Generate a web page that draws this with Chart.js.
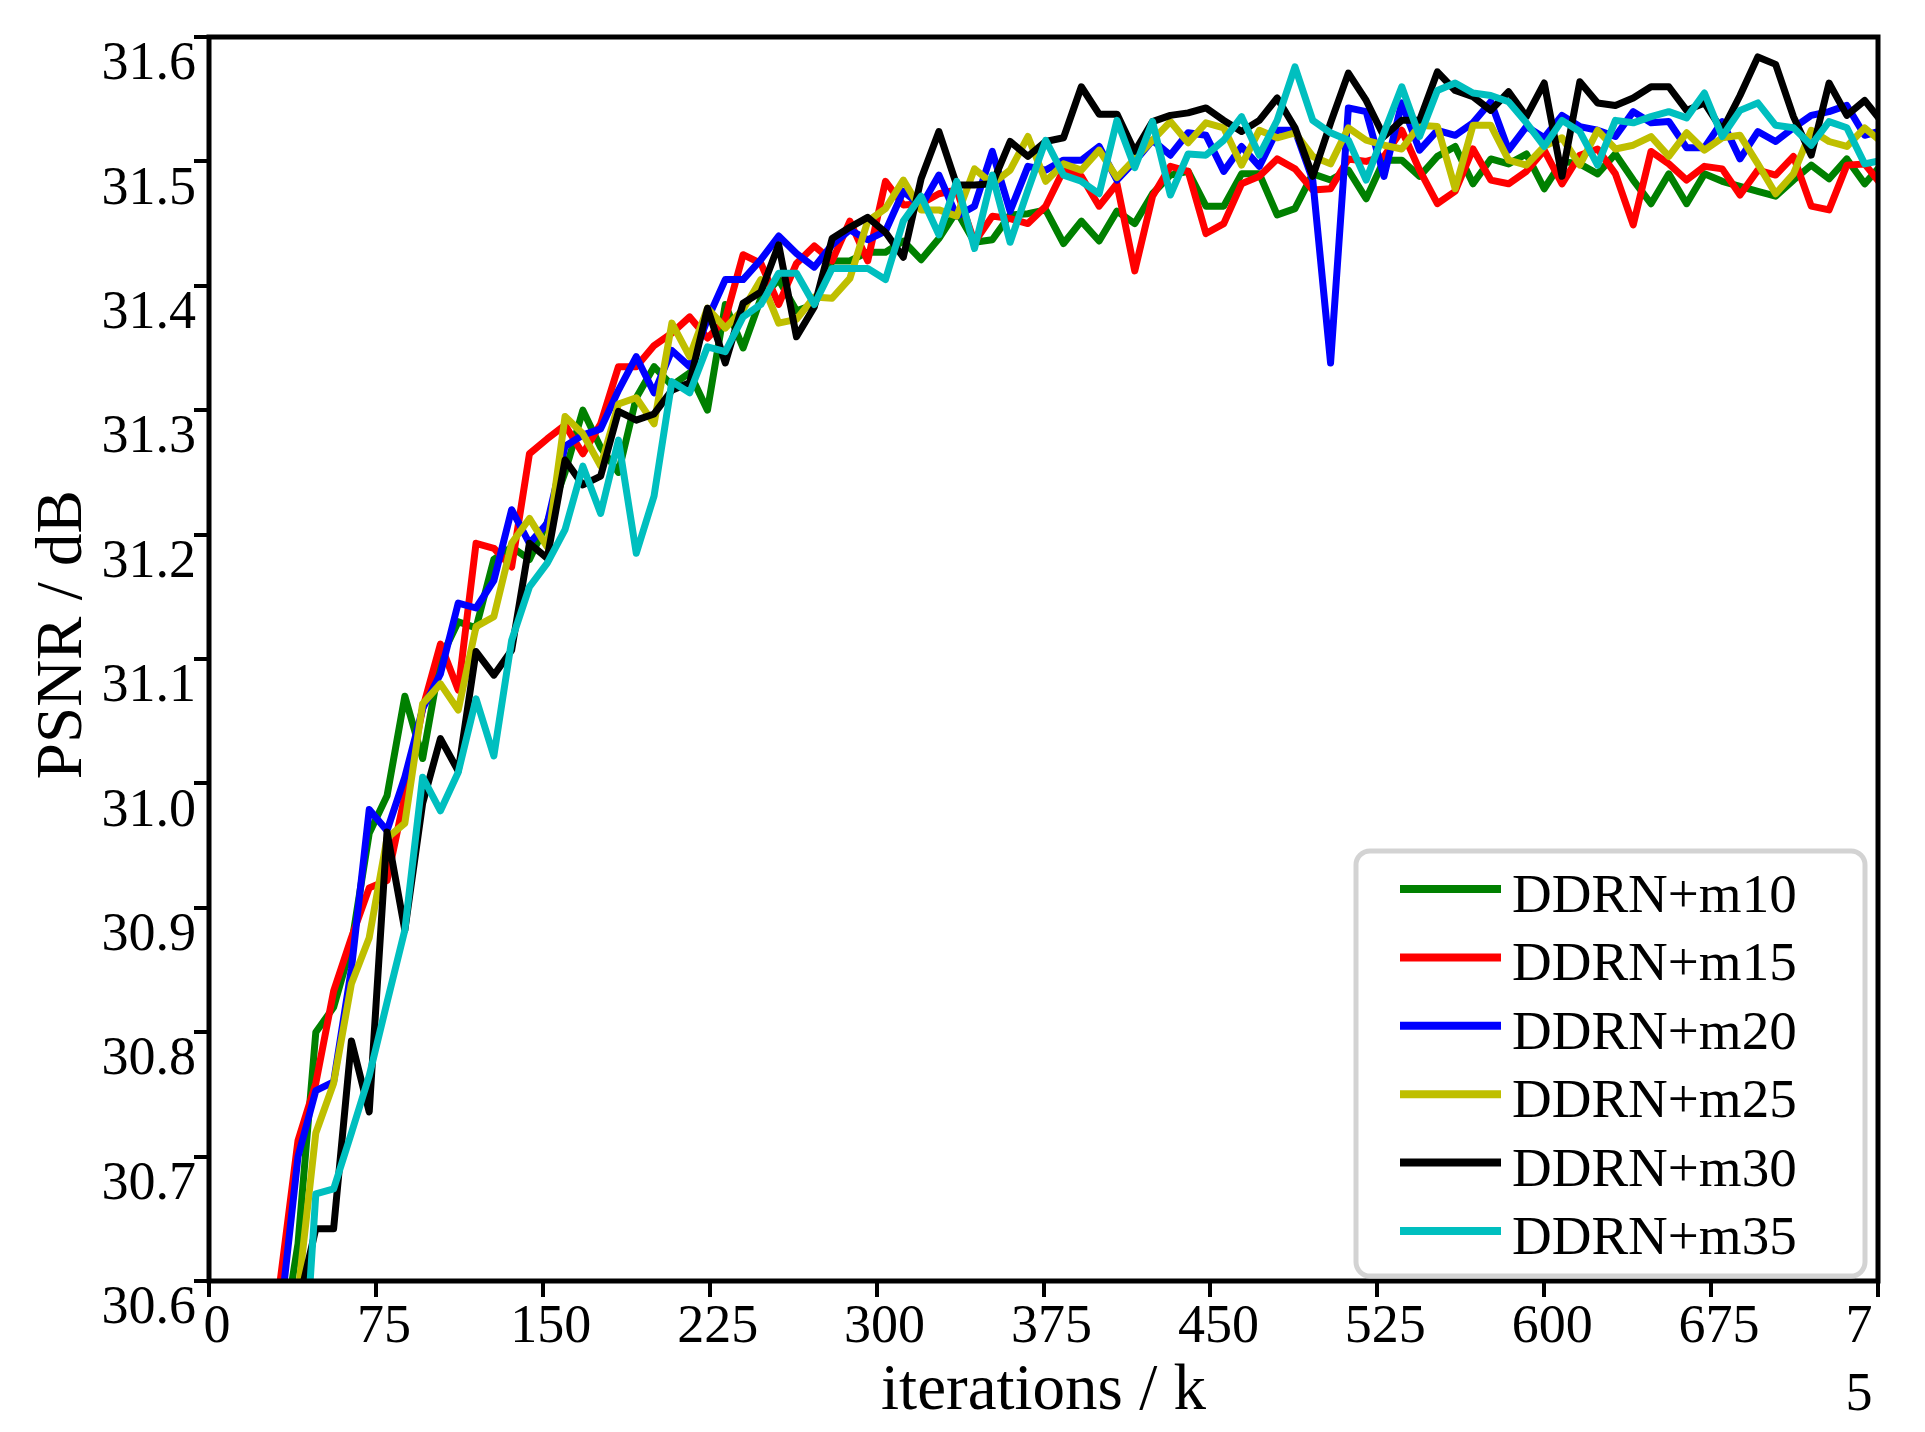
<!DOCTYPE html>
<html>
<head>
<meta charset="utf-8">
<title>PSNR vs iterations</title>
<script src="https://cdn.jsdelivr.net/npm/chart.js@4.4.1/dist/chart.umd.min.js"></script>
<style>
  html, body { margin: 0; padding: 0; background: #ffffff; }
  #wrap { width: 1925px; height: 1432px; }
</style>
</head>
<body>
<div id="wrap"><canvas id="psnrChart"></canvas></div>
<script>
// iterations (k) at which PSNR was measured
const iterations = [
    8, 16, 24, 32, 40, 48, 56, 64, 72, 80,
    88, 96, 104, 112, 120, 128, 136, 144, 152, 160,
    168, 176, 184, 192, 200, 208, 216, 224, 232, 240,
    248, 256, 264, 272, 280, 288, 296, 304, 312, 320,
    328, 336, 344, 352, 360, 368, 376, 384, 392, 400,
    408, 416, 424, 432, 440, 448, 456, 464, 472, 480,
    488, 496, 504, 512, 520, 528, 536, 544, 552, 560,
    568, 576, 584, 592, 600, 608, 616, 624, 632, 640,
    648, 656, 664, 672, 680, 688, 696, 704, 712, 720,
    728, 736, 744, 752
];

const psnrM10 = [
    29.90, 30.15, 30.38, 30.54, 30.63, 30.80, 30.82, 30.87, 30.96, 30.99,
    31.07, 31.02, 31.10, 31.13, 31.125, 31.18, 31.19, 31.18, 31.21, 31.25,
    31.30, 31.27, 31.25, 31.31, 31.335, 31.32, 31.33, 31.30, 31.385, 31.35,
    31.39, 31.405, 31.38, 31.385, 31.42, 31.42, 31.427, 31.427, 31.436, 31.421,
    31.438, 31.46, 31.435, 31.437, 31.457, 31.458, 31.461, 31.434, 31.452, 31.436,
    31.46, 31.45, 31.474, 31.489, 31.492, 31.464, 31.464, 31.49, 31.49, 31.457,
    31.462, 31.49, 31.485, 31.493, 31.47, 31.501, 31.501, 31.488, 31.504, 31.512,
    31.482, 31.502, 31.498, 31.506, 31.478, 31.50, 31.498, 31.49, 31.506, 31.485,
    31.466, 31.49, 31.466, 31.49, 31.484, 31.48, 31.476, 31.472, 31.485, 31.497,
    31.486, 31.502, 31.482, 31.498
];

const psnrM15 = [
    29.95, 30.20, 30.45, 30.60, 30.713, 30.759, 30.833, 30.876, 30.916, 30.922,
    30.99, 31.06, 31.112, 31.075, 31.193, 31.189, 31.174, 31.265, 31.277, 31.288,
    31.265, 31.289, 31.335, 31.335, 31.352, 31.362, 31.375, 31.358, 31.373, 31.425,
    31.418, 31.385, 31.418, 31.432, 31.42, 31.452, 31.42, 31.484, 31.465, 31.466,
    31.474, 31.477, 31.435, 31.456, 31.454, 31.45, 31.464, 31.493, 31.488, 31.464,
    31.482, 31.412, 31.472, 31.496, 31.492, 31.442, 31.45, 31.482, 31.488, 31.502,
    31.494, 31.477, 31.478, 31.502, 31.50, 31.504, 31.525, 31.493, 31.466, 31.476,
    31.51, 31.485, 31.482, 31.492, 31.509, 31.482, 31.505, 31.51, 31.49, 31.449,
    31.508, 31.498, 31.485, 31.496, 31.494, 31.473, 31.493, 31.489, 31.504, 31.464,
    31.461, 31.497, 31.498, 31.48
];

const psnrM20 = [
    29.90, 30.15, 30.40, 30.57, 30.70, 30.753, 30.76, 30.851, 30.979, 30.962,
    31.005, 31.06, 31.088, 31.145, 31.141, 31.163, 31.22, 31.193, 31.209, 31.271,
    31.28, 31.285, 31.316, 31.343, 31.314, 31.348, 31.335, 31.373, 31.405, 31.405,
    31.421, 31.44, 31.426, 31.415, 31.433, 31.445, 31.437, 31.444, 31.476, 31.464,
    31.489, 31.456, 31.464, 31.508, 31.46, 31.496, 31.493, 31.501, 31.501, 31.512,
    31.485, 31.50, 31.517, 31.505, 31.523, 31.521, 31.492, 31.512, 31.496, 31.525,
    31.525, 31.485, 31.338, 31.543, 31.54, 31.488, 31.547, 31.509, 31.525, 31.521,
    31.531, 31.548, 31.509, 31.528, 31.519, 31.537, 31.528, 31.525, 31.52, 31.54,
    31.531, 31.532, 31.511, 31.511, 31.532, 31.502, 31.524, 31.516, 31.527, 31.537,
    31.54, 31.545, 31.521, 31.525
];

const psnrM25 = [
    29.80, 30.05, 30.30, 30.48, 30.59, 30.719, 30.759, 30.839, 30.876, 30.956,
    30.968, 31.064, 31.08, 31.059, 31.126, 31.134, 31.193, 31.213, 31.19, 31.295,
    31.281, 31.255, 31.305, 31.31, 31.289, 31.37, 31.343, 31.382, 31.366, 31.381,
    31.405, 31.37, 31.373, 31.391, 31.39, 31.406, 31.452, 31.462, 31.485, 31.461,
    31.461, 31.456, 31.494, 31.482, 31.493, 31.52, 31.484, 31.498, 31.493, 31.509,
    31.487, 31.502, 31.517, 31.532, 31.515, 31.531, 31.527, 31.497, 31.525, 31.519,
    31.523, 31.504, 31.498, 31.527, 31.517, 31.513, 31.51, 31.529, 31.528, 31.478,
    31.529, 31.529, 31.501, 31.497, 31.512, 31.519, 31.497, 31.525, 31.51, 31.513,
    31.52, 31.504, 31.523, 31.509, 31.519, 31.521, 31.498, 31.474, 31.49, 31.525,
    31.516, 31.512, 31.527, 31.515
];

const psnrM30 = [
    29.70, 30.00, 30.25, 30.42, 30.58, 30.642, 30.642, 30.793, 30.736, 30.961,
    30.882, 30.984, 31.036, 31.01, 31.106, 31.087, 31.107, 31.193, 31.181, 31.26,
    31.24, 31.247, 31.299, 31.292, 31.297, 31.316, 31.322, 31.382, 31.338, 31.386,
    31.395, 31.433, 31.359, 31.383, 31.438, 31.447, 31.455, 31.443, 31.423, 31.486,
    31.524, 31.481, 31.481, 31.482, 31.516, 31.504, 31.516, 31.519, 31.56, 31.538,
    31.538, 31.508, 31.532, 31.537, 31.539, 31.543, 31.533, 31.524, 31.533, 31.551,
    31.527, 31.488, 31.531, 31.571, 31.549, 31.52, 31.533, 31.533, 31.572, 31.557,
    31.552, 31.541, 31.556, 31.536, 31.563, 31.488, 31.564, 31.547, 31.545, 31.551,
    31.56, 31.56, 31.541, 31.547, 31.525, 31.553, 31.584, 31.578, 31.536, 31.505,
    31.563, 31.537, 31.549, 31.531
];

const psnrM35 = [
    29.60, 29.90, 30.20, 30.35, 30.45, 30.67, 30.674, 30.719, 30.765, 30.824,
    30.882, 31.005, 30.978, 31.009, 31.068, 31.022, 31.115, 31.158, 31.177, 31.204,
    31.255, 31.217, 31.276, 31.185, 31.231, 31.323, 31.314, 31.351, 31.347, 31.375,
    31.385, 31.41, 31.41, 31.385, 31.414, 31.414, 31.414, 31.405, 31.452, 31.472,
    31.441, 31.484, 31.43, 31.489, 31.435, 31.477, 31.517, 31.489, 31.484, 31.474,
    31.533, 31.495, 31.532, 31.473, 31.506, 31.505, 31.517, 31.536, 31.505, 31.533,
    31.576, 31.533, 31.523, 31.517, 31.485, 31.523, 31.56, 31.52, 31.557, 31.563,
    31.555, 31.553, 31.548, 31.531, 31.512, 31.533, 31.524, 31.497, 31.533, 31.531,
    31.536, 31.54, 31.535, 31.555, 31.52, 31.541, 31.547, 31.529, 31.527, 31.513,
    31.532, 31.527, 31.498, 31.501
];

const seriesNames = ['DDRN+m10', 'DDRN+m15', 'DDRN+m20', 'DDRN+m25', 'DDRN+m30', 'DDRN+m35'];

const xTickValues = [0, 75, 150, 225, 300, 375, 450, 525, 600, 675, 750];
const xTickLabels = ['0', '75', '150', '225', '300', '375', '450', '525', '600', '675', ['7    ', '5    ']];
const yTickValues = [30.6, 30.7, 30.8, 30.9, 31.0, 31.1, 31.2, 31.3, 31.4, 31.5, 31.6];
const yTickLabels = ['30.6', '30.7', '30.8', '30.9', '31.0', '31.1', '31.2', '31.3', '31.4', '31.5', '31.6'];

// matplotlib-like colours g, r, b, y, k, c
const lineColors = ['#008000', '#ff0000', '#0000ff', '#bfbf00', '#000000', '#00bfbf'];
const seriesValues = [psnrM10, psnrM15, psnrM20, psnrM25, psnrM30, psnrM35];

const serif = "'Liberation Serif', 'Times New Roman', serif";
Chart.defaults.font.family = serif;
Chart.defaults.color = '#000000';

function labelFor(values, labels, v) {
    const i = values.findIndex(t => Math.abs(t - v) < 1e-6);
    return i < 0 ? '' : labels[i];
}

// box round the plot area, drawn over the lines like the axes spines
const framePlugin = {
    id: 'frame',
    afterDatasetsDraw(chart) {
        const { ctx, chartArea: a } = chart;
        ctx.save();
        ctx.strokeStyle = '#000000';
        ctx.lineWidth = 5;
        ctx.strokeRect(a.left, a.top, a.right - a.left, a.bottom - a.top);
        ctx.restore();
    }
};

// legend box in the lower right corner
const legendPlugin = {
    id: 'boxLegend',
    afterDraw(chart) {
        const ctx = chart.ctx;
        const box = { left: 1356, top: 851, right: 1865, bottom: 1276, r: 14 };
        ctx.save();
        ctx.beginPath();
        ctx.roundRect(box.left, box.top, box.right - box.left, box.bottom - box.top, box.r);
        ctx.fillStyle = '#ffffff';
        ctx.fill();
        ctx.lineWidth = 5;
        ctx.strokeStyle = '#d3d3d3';
        ctx.stroke();

        ctx.font = '55px ' + serif;
        ctx.textAlign = 'left';
        ctx.textBaseline = 'alphabetic';
        seriesNames.forEach((name, i) => {
            const y = 889 + i * 68.4;
            ctx.beginPath();
            ctx.moveTo(1400, y);
            ctx.lineTo(1501, y);
            ctx.strokeStyle = lineColors[i];
            ctx.lineWidth = 8;
            ctx.stroke();
            ctx.fillStyle = '#000000';
            ctx.fillText(name, 1512, y + 23);
        });
        ctx.restore();
    }
};

const ctx = document.getElementById('psnrChart').getContext('2d');
const psnrChart = new Chart(ctx, {
    type: 'line',
    data: {
        labels: iterations,
        datasets: seriesValues.map((vals, i) => ({
            label: seriesNames[i],
            data: vals,
            borderColor: lineColors[i],
            backgroundColor: lineColors[i],
            borderWidth: 7,
            pointRadius: 0,
            tension: 0,
            fill: false,
            clip: 0,
            borderJoinStyle: 'round',
            order: seriesValues.length - i   // later series on top, as in the original
        }))
    },
    options: {
        responsive: true,
        maintainAspectRatio: false,
        animation: false,
        events: [],
        layout: { padding: { top: 37, right: 47, left: 0, bottom: 0 } },
        plugins: {
            legend: { display: false },
            tooltip: { enabled: false },
            title: { display: false }
        },
        scales: {
            x: {
                type: 'linear',
                min: 0,
                max: 750,
                afterFit(scale) { scale.height = 151; },
                afterBuildTicks(scale) { scale.ticks = xTickValues.map(v => ({ value: v })); },
                grid: { drawOnChartArea: false, color: '#000000', lineWidth: 4, tickLength: 16 },
                border: { color: '#000000', width: 4 },
                ticks: {
                    autoSkip: false,
                    maxRotation: 0,
                    padding: -3,
                    labelOffset: 8,
                    font: { size: 54, lineHeight: 1.26 },
                    callback: v => labelFor(xTickValues, xTickLabels, v)
                },
                title: {
                    display: true,
                    text: 'iterations / k',
                    font: { size: 65, lineHeight: 1.2 },
                    padding: { top: 0, bottom: 1 }
                }
            },
            y: {
                min: 30.6,
                max: 31.6,
                afterFit(scale) { scale.width = 209; },
                afterBuildTicks(scale) { scale.ticks = yTickValues.map(v => ({ value: v })); },
                grid: { drawOnChartArea: false, color: '#000000', lineWidth: 4, tickLength: 15 },
                border: { color: '#000000', width: 4 },
                ticks: {
                    padding: -2,
                    labelOffset: 28,
                    font: { size: 54 },
                    callback: v => labelFor(yTickValues, yTickLabels, v)
                },
                title: {
                    display: true,
                    text: '   PSNR / dB',
                    font: { size: 65, lineHeight: 1.2 },
                    padding: { top: 25, bottom: 0 }
                }
            }
        }
    },
    plugins: [framePlugin, legendPlugin]
});
</script>
</body>
</html>
